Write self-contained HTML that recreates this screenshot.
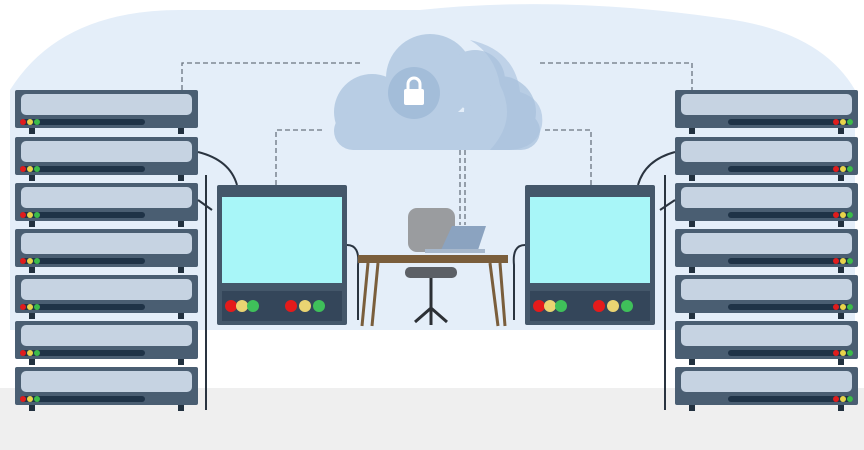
<!DOCTYPE html>
<html><head><style>html,body{margin:0;padding:0;background:#fff}svg{display:block}</style></head><body>
<svg width="864" height="450" viewBox="0 0 864 450" xmlns="http://www.w3.org/2000/svg">
<defs>
<g id="unitL">
<rect x="0" y="0" width="183" height="38" rx="2" fill="#4a5e72"/>
<rect x="6" y="4" width="171" height="21" rx="5" fill="#c6d3e2"/>
<rect x="5" y="29" width="125" height="6" rx="3" fill="#1f3347"/>
<circle cx="8" cy="32" r="3" fill="#e01c1c"/><circle cx="15" cy="32" r="3" fill="#e8d34a"/><circle cx="22" cy="32" r="3" fill="#3dbb4a"/>
<rect x="14" y="38" width="6" height="6" fill="#22313f"/><rect x="163" y="38" width="6" height="6" fill="#22313f"/>
</g>
<g id="unitR">
<rect x="0" y="0" width="183" height="38" rx="2" fill="#4a5e72"/>
<rect x="6" y="4" width="171" height="21" rx="5" fill="#c6d3e2"/>
<rect x="53" y="29" width="125" height="6" rx="3" fill="#1f3347"/>
<circle cx="161" cy="32" r="3" fill="#e01c1c"/><circle cx="168" cy="32" r="3" fill="#e8d34a"/><circle cx="175" cy="32" r="3" fill="#3dbb4a"/>
<rect x="14" y="38" width="6" height="6" fill="#22313f"/><rect x="163" y="38" width="6" height="6" fill="#22313f"/>
</g>
<g id="mon">
<rect x="0" y="0" width="130" height="140" rx="2" fill="#44576a"/>
<rect x="5" y="12" width="120" height="86" fill="#a8f6f8"/>
<rect x="5" y="106" width="120" height="30" fill="#34465a"/>
<circle cx="14" cy="121" r="6" fill="#e41b1b"/><circle cx="25" cy="121" r="6" fill="#ead472"/><circle cx="36" cy="121" r="6" fill="#3fc05a"/>
<circle cx="74" cy="121" r="6" fill="#e41b1b"/><circle cx="88" cy="121" r="6" fill="#ead472"/><circle cx="102" cy="121" r="6" fill="#3fc05a"/>
</g>
</defs>
<rect x="0" y="0" width="864" height="450" fill="#ffffff"/>
<path d="M10 330 L10 90 Q60 10 180 10 L420 10 Q560 -5 720 18 Q820 30 855 90 L855 330 Z" fill="#e4eef9"/>
<rect x="0" y="388" width="864" height="62" fill="#efefef"/>
<rect x="210" y="330" width="445" height="58" fill="#ffffff"/>
<g fill="none" stroke="#6a7480" stroke-width="1.3" stroke-dasharray="5,3">
<path d="M182 90 V63 H360"/><path d="M540 63 H692 V90"/>
<path d="M276 185 V130 H322"/><path d="M545 130 H591 V185"/>
<path d="M460 150 V225"/><path d="M465 150 V225"/>
</g>
<!-- cloud -->
<g fill="#b8cde4">
<circle cx="430" cy="78" r="44"/><circle cx="372" cy="112" r="38"/><circle cx="500" cy="112" r="36"/>
<circle cx="475" cy="80" r="30"/>
<rect x="334" y="112" width="206" height="38" rx="19"/>
</g>
<path d="M470 40 Q515 50 520 92 Q545 100 542 125 Q538 148 510 150 L490 150 Q518 120 500 85 Q495 55 470 40 Z" fill="#a6bfdc" opacity="0.6"/>
<circle cx="414" cy="93" r="26" fill="#a3bdd9"/>
<rect x="404" y="89" width="20" height="16" rx="2" fill="#fff"/>
<path d="M408 90 V84 a6 6 0 0 1 12 0 V90" fill="none" stroke="#fff" stroke-width="3"/>
<g transform="translate(15,90)"><use href="#unitL"/></g>
<g transform="translate(15,137)"><use href="#unitL"/></g>
<g transform="translate(15,183)"><use href="#unitL"/></g>
<g transform="translate(15,229)"><use href="#unitL"/></g>
<g transform="translate(15,275)"><use href="#unitL"/></g>
<g transform="translate(15,321)"><use href="#unitL"/></g>
<g transform="translate(15,367)"><use href="#unitL"/></g>
<g transform="translate(675,90)"><use href="#unitR"/></g>
<g transform="translate(675,137)"><use href="#unitR"/></g>
<g transform="translate(675,183)"><use href="#unitR"/></g>
<g transform="translate(675,229)"><use href="#unitR"/></g>
<g transform="translate(675,275)"><use href="#unitR"/></g>
<g transform="translate(675,321)"><use href="#unitR"/></g>
<g transform="translate(675,367)"><use href="#unitR"/></g>
<g fill="none" stroke="#2a3440" stroke-width="2">
<path d="M198 152 Q230 160 237 185"/><path d="M206 175 V410"/><path d="M198 200 L212 210"/>
<path d="M675 152 Q645 160 638 185"/><path d="M665 175 V410"/><path d="M675 200 L660 210"/>
<path d="M347 245 Q360 245 358 265 V320"/><path d="M525 245 Q512 245 514 265 V320"/>
</g>
<g transform="translate(217,185)"><use href="#mon"/></g>
<g transform="translate(525,185)"><use href="#mon"/></g>
<rect x="408" y="208" width="47" height="44" rx="9" fill="#9a9c9f"/>
<path d="M441 250 L452 226 H486 L478 250 Z" fill="#8ba3c0"/>
<rect x="425" y="249" width="60" height="4" fill="#a7b8cc"/>
<rect x="358" y="255" width="150" height="8" fill="#7a5e3c"/>
<path d="M368 263 L362 326 M378 263 L372 326 M490 263 L498 326 M500 263 L505 326" stroke="#7a5e3c" stroke-width="3"/>
<rect x="405" y="267" width="52" height="11" rx="5" fill="#5c6066"/>
<path d="M431 278 V308 M431 308 L415 322 M431 308 L447 322 M431 308 L431 325" stroke="#2c3035" stroke-width="3" fill="none"/>
</svg>
</body></html>
